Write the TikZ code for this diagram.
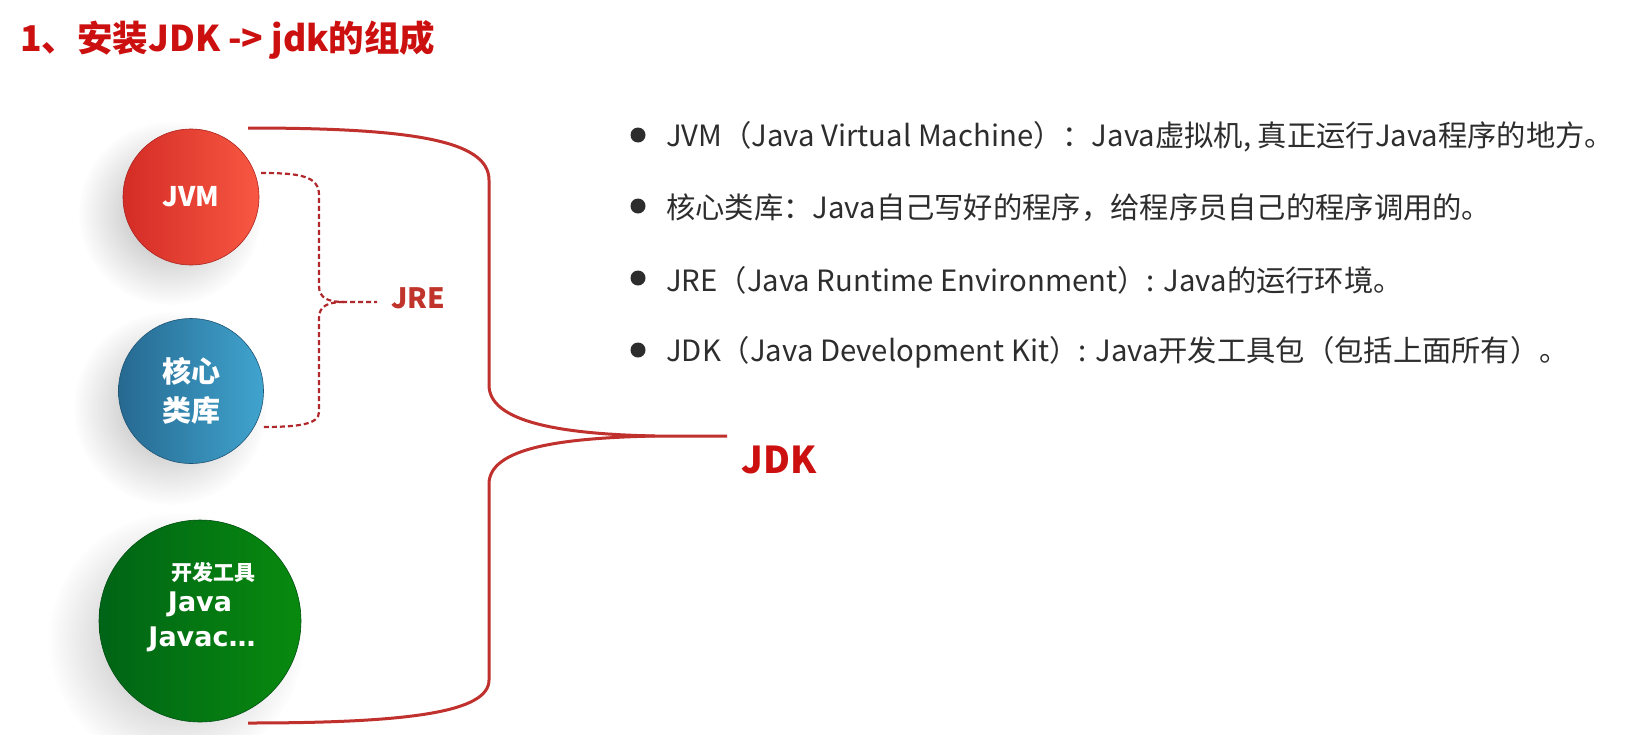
\documentclass[tikz,border=0pt]{standalone}
\usepackage{fontspec}
\setmainfont{Noto Sans CJK SC}
\newfontfamily\dvb{DejaVu Sans}
\usetikzlibrary{fadings}
\definecolor{titlered}{RGB}{204,16,16}
\definecolor{bracered}{RGB}{192,48,44}
\definecolor{dashred}{RGB}{176,40,44}
\definecolor{jrered}{RGB}{192,52,44}
\definecolor{textgray}{RGB}{45,45,45}
\definecolor{redL}{RGB}{212,44,38}
\definecolor{redR}{RGB}{248,88,66}
\definecolor{blueL}{RGB}{38,105,145}
\definecolor{blueR}{RGB}{64,164,206}
\definecolor{greenL}{RGB}{0,100,22}
\definecolor{greenR}{RGB}{8,138,14}
\tikzfading[name=softedge, inner color=transparent!0, outer color=transparent!100]
\tikzset{
  brace/.style={draw=bracered, line width=3pt},
  dbrace/.style={draw=dashred, line width=2.2pt, dash pattern=on 5pt off 3pt},
  ball/.style={circle, inner sep=0pt, text=white, line width=0.6pt},
  softshadow/.style={fill=black!70, fill opacity=0.45, path fading=softedge},
  bulletdot/.style={circle, fill=textgray, minimum size=15pt, inner sep=0pt},
  itemtext/.style={anchor=west, text=textgray, inner sep=0pt, font=\fontsize{29.3}{34}\selectfont},
}
\begin{document}
\begin{tikzpicture}[x=1pt,y=-1pt]
\useasboundingbox[fill=white] (0,0) rectangle (1638,734);

% title
\node[anchor=west, inner sep=0pt, text=titlered, font=\fontsize{35.5}{40}\selectfont\bfseries] (title) at (20,40) {1、安装JDK -> jdk的组成};

% soft shadows
\fill[softshadow] (170,213) circle (92);
\fill[softshadow] (170,408) circle (97);
\fill[softshadow] (176,640) circle (128);

% circles
\node[ball, minimum size=136pt, left color=redL, right color=redR, draw=redL!80!black,
      font=\fontsize{27}{32}\selectfont\bfseries] (jvm) at (191,197) {JVM};
\node[ball, minimum size=145pt, left color=blueL, right color=blueR, draw=blueL!80!black,
      align=center, font=\fontsize{29}{39}\selectfont\bfseries] (core) at (191,391) {核心\\类库};
\node[ball, minimum size=202pt, left color=greenL, right color=greenR, draw=greenL!80!black] (tools) at (200,621) {};
\node[text=white, inner sep=0pt, font=\fontsize{21}{24}\selectfont\bfseries] (g1) at (213,572) {开发工具};
\node[text=white, inner sep=0pt, font=\dvb\fontsize{27}{30}\selectfont\bfseries] (g2) at (200,604) {Java};
\node[text=white, inner sep=0pt, font=\dvb\fontsize{27}{30}\selectfont\bfseries] (g3) at (202,639) {Javac…};

% JRE dashed brace
\coordinate (jreTop) at (261,173);
\coordinate (jreBot) at (262,427);
\coordinate (jreTip) at (377,302);
\draw[dbrace] (jreTop) .. controls (300,173) and (319,176) .. (319,195)
  -- (319,286) .. controls (319,298) and (328,302) .. (344,302) -- (jreTip);
\draw[dbrace] (344,302) .. controls (328,302) and (319,306) .. (319,318)
  -- (319,412) .. controls (319,424) and (300,427) .. (jreBot);
\node[text=jrered, inner sep=0pt, font=\fontsize{28}{32}\selectfont\bfseries] (jre) at (418,298) {JRE};

% JDK solid brace
\coordinate (jdkTop) at (248,128);
\coordinate (jdkBot) at (248,723);
\coordinate (jdkTip) at (727,436);
\draw[brace] (jdkTop) .. controls (410,128) and (489,140) .. (489,180)
  -- (489,385) .. controls (489,422) and (560,434) .. (655,436) -- (jdkTip);
\draw[brace] (655,436) .. controls (560,438) and (489,448) .. (489,484)
  -- (489,680) .. controls (489,712) and (410,723) .. (jdkBot);
\node[text=titlered, inner sep=0pt, font=\fontsize{37}{42}\selectfont\bfseries] (jdk) at (779,460) {JDK};

% bullet list
\node[bulletdot] (b1) at (638,135) {};
\node[itemtext] (t1) at (666,137) {JVM（Java Virtual Machine）：Java虚拟机, 真正运行Java程序的地方。};
\node[bulletdot] (b2) at (638,206) {};
\node[itemtext] (t2) at (666,208) {核心类库：Java自己写好的程序，给程序员自己的程序调用的。};
\node[bulletdot] (b3) at (638,278) {};
\node[itemtext] (t3) at (666,280) {JRE（Java Runtime Environment）: Java的运行环境。};
\node[bulletdot] (b4) at (638,350) {};
\node[itemtext] (t4) at (666,352) {JDK（Java Development Kit）: Java开发工具包（包括上面所有）。};
\end{tikzpicture}
\end{document}
